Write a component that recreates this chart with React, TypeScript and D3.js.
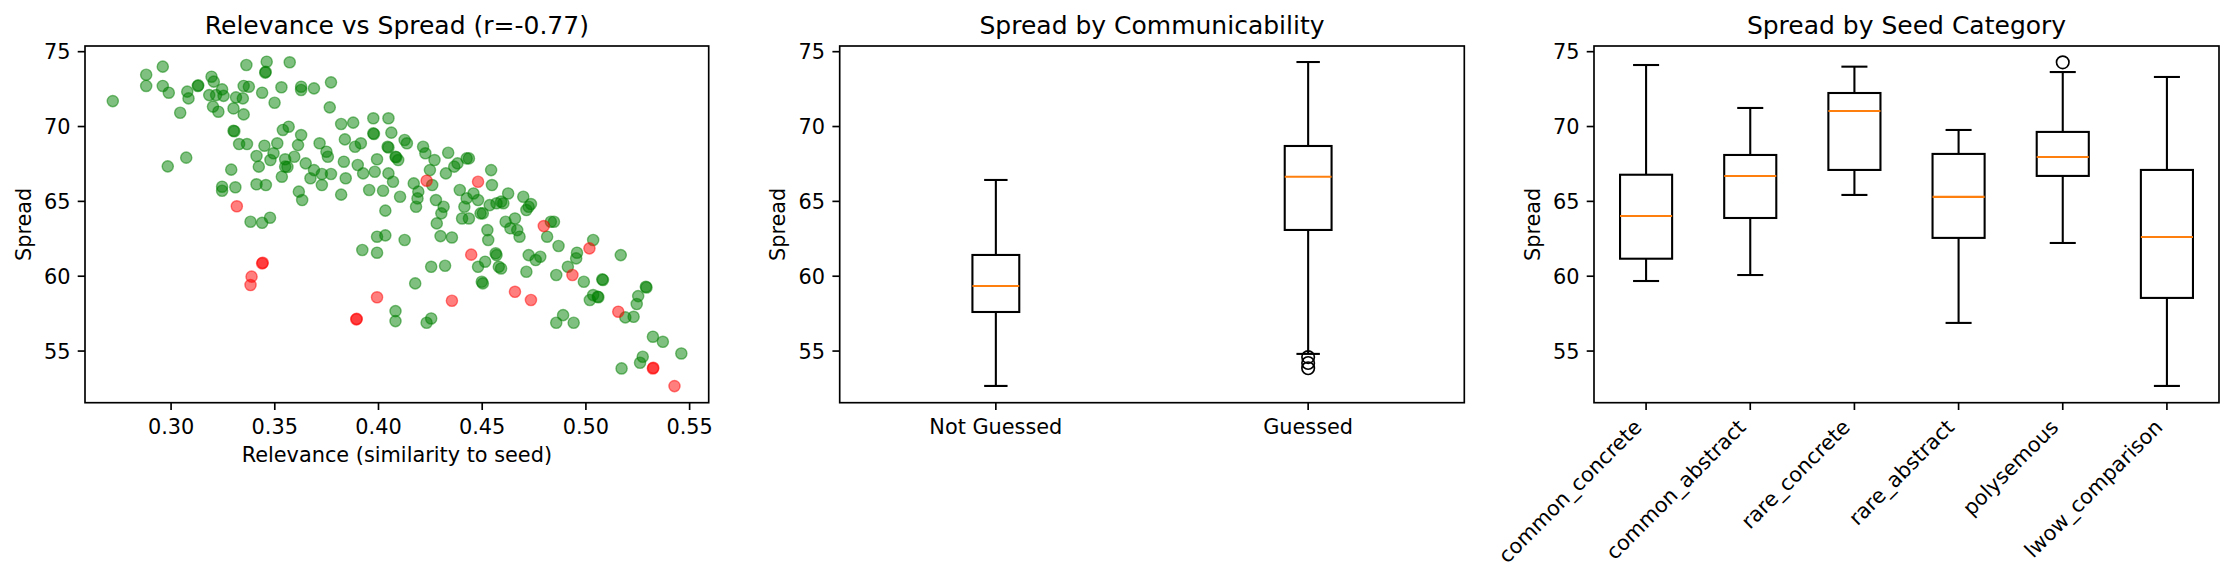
import React from 'react';
import * as d3 from 'd3';

// ---------- DATA ----------
const guessedPoints: [number, number][] = [
  [0.2719,71.70],[0.2880,73.46],[0.2880,72.71],[0.2960,74.00],[0.2960,72.71],[0.2989,72.26],[0.3044,70.92],[0.3078,72.33],[0.3084,71.88],[0.3129,72.71],[0.3131,72.75],[0.3184,72.10],[0.3195,73.33],[0.3206,73.00],[0.3202,71.33],[0.3228,70.99],[0.3217,72.10],[0.3246,72.48],[0.3253,72.05],[0.3301,71.21],[0.3313,71.95],[0.3346,71.88],[0.3350,70.81],[0.3350,72.71],[0.3375,72.66],[0.3363,74.11],[0.3439,72.26],[0.3454,73.60],[0.3456,73.65],[0.3461,74.33],[0.3572,74.29],[0.3499,71.59],[0.3532,72.62],[0.3627,72.44],[0.3627,72.66],[0.3689,72.55],[0.3771,72.95],[0.3765,71.28],[0.2984,67.34],[0.3073,67.92],
  [0.3301,69.72],[0.3305,69.68],[0.3328,68.83],[0.3366,68.83],[0.3412,68.03],[0.3423,67.32],[0.3450,68.72],[0.3290,67.12],[0.3246,65.98],[0.3246,65.71],[0.3310,65.94],[0.3383,63.64],[0.3439,63.57],[0.3477,63.91],[0.3412,66.14],[0.3457,66.09],[0.3479,67.76],[0.3494,68.21],[0.3512,68.88],[0.3534,66.65],[0.3539,69.77],[0.3567,69.99],[0.3550,67.81],[0.3550,67.32],[0.3561,67.30],[0.3594,67.98],[0.3612,68.76],[0.3627,69.43],[0.3616,65.65],[0.3632,65.09],[0.3649,67.54],[0.3672,66.54],[0.3689,67.09],[0.3716,68.88],[0.3727,66.09],[0.3749,68.32],[0.3756,67.98],[0.3727,66.83],[0.3771,66.83],[0.3820,65.45],[0.3820,70.17],[0.3833,67.65],[0.3838,69.14],[0.3842,66.54],[0.3878,70.26],[0.3887,68.65],[0.3900,67.43],[0.3915,68.88],[0.3926,66.87],[0.3955,65.76],[0.3975,70.55],[0.3975,69.54],[0.3978,69.50],[0.3982,66.98],[0.3993,67.81],[0.4022,65.71],[0.4033,64.38],[0.4048,70.55],[0.4048,66.87],[0.4044,68.65],[0.4048,68.60],[0.4062,69.59],[0.4070,66.31],[0.4082,67.98],[0.4085,67.95],[0.4095,67.76],[0.4104,65.31],[0.4126,69.10],[0.4137,68.88],[0.4126,62.42],[0.4170,66.20],[0.4181,64.64],[0.4188,65.20],[0.4192,65.65],[0.4215,68.65],[0.4226,68.21],[0.4248,67.09],[0.4259,66.09],[0.4270,67.76],[0.4277,65.09],[0.4281,63.53],[0.4299,62.68],[0.4303,64.20],[0.4314,64.64],[0.4325,66.87],[0.4336,68.25],[0.4354,62.59],[0.4365,67.32],[0.4381,67.54],[0.4392,65.76],[0.4403,63.86],[0.4414,64.64],[0.4425,67.87],[0.4436,67.87],[0.4458,65.53],[0.4480,60.63],[0.4492,64.20],[0.4498,59.63],[0.4503,59.52],[0.4514,60.97],[0.4525,63.08],[0.4529,62.42],[0.4536,64.75],[0.4543,67.09],[0.4547,66.09],[0.4565,61.53],[0.4569,61.41],[0.4580,60.63],[0.4591,60.52],[0.4602,64.87],[0.4613,63.64],[0.4625,65.53],[0.4636,63.20],[0.4658,63.86],[0.4669,63.08],[0.4680,62.64],[0.4698,65.31],[0.4713,60.30],[0.4713,64.42],[0.4724,64.64],[0.4735,64.82],[0.4724,61.41],[0.4758,61.08],[0.4780,61.30],[0.4813,62.64],[0.4831,63.64],[0.4846,63.64],[0.4857,60.08],[0.4868,62.02],[0.4913,60.63],[0.4953,61.19],[0.4957,61.57],[0.4990,59.63],[0.5035,62.42],[0.5079,59.79],[0.5082,59.75],[0.5168,61.41],[0.5289,59.30],[0.5292,59.25],
  [0.3922,61.75],[0.3993,62.64],[0.3993,61.57],[0.4033,62.73],[0.4254,60.63],[0.4321,60.70],[0.4425,65.20],[0.4480,65.09],[0.4436,63.86],[0.4503,64.20],[0.4591,64.98],[0.4569,64.87],[0.4177,59.52],
  [0.4082,57.67],[0.4082,57.00],[0.4232,56.89],[0.4254,57.18],[0.4857,56.89],[0.4890,57.40],[0.4941,56.89],[0.5019,58.41],[0.5035,58.74],[0.5057,58.63],[0.5060,58.60],[0.5190,57.25],[0.5230,57.29],[0.5245,58.14],[0.5252,58.67],[0.5323,55.96],[0.5371,55.62],[0.5274,54.62],[0.5261,54.22],[0.5460,54.84],[0.5172,53.84],
];

const notGuessedPoints: [number, number][] = [
  [0.3317,64.67],[0.3439,60.86],[0.3442,60.90],[0.3388,59.97],[0.3383,59.41],[0.4232,66.38],[0.4447,61.44],[0.4480,66.31],[0.4797,63.35],[0.4935,60.08],[0.5017,61.86],[0.3893,57.12],[0.3895,57.15],[0.3993,58.59],[0.4354,58.36],[0.4658,58.96],[0.4735,58.41],[0.5156,57.63],[0.5323,53.84],[0.5325,53.88],[0.5427,52.66],
];

const relevanceTicks = [0.30, 0.35, 0.40, 0.45, 0.50, 0.55];
const spreadTicks = [55, 60, 65, 70, 75];

const commCategories = ['Not Guessed', 'Guessed'];
const commWhiskerLow = [52.67, 54.81];
const commQ1 = [57.61, 63.09];
const commMedian = [59.35, 66.65];
const commQ3 = [61.42, 68.70];
const commWhiskerHigh = [66.43, 74.31];
const commOutliers = [[], [54.6, 54.2, 53.85]];

const seedCategories = ['common_concrete', 'common_abstract', 'rare_concrete', 'rare_abstract', 'polysemous', 'lwow_comparison'];
const seedWhiskerLow = [59.68, 60.08, 65.43, 56.88, 62.22, 52.67];
const seedQ1 = [61.17, 63.89, 67.10, 62.56, 66.70, 58.55];
const seedMedian = [64.02, 66.70, 71.04, 65.30, 67.97, 62.62];
const seedQ3 = [66.78, 68.10, 72.24, 68.17, 69.64, 67.10];
const seedWhiskerHigh = [74.11, 71.24, 74.00, 69.77, 73.64, 73.31];
const seedOutliers = [[], [], [], [], [74.29], []];

// ---------- LAYOUT ----------
const W = 2234, H = 582;
const PT = 150 / 72;
const FONT = "'DejaVu Sans', sans-serif";
const FS = 10 * PT;
const TFS = 12 * PT;
const TOP = 46, BOTTOM = 402.7;
const TICK = 3.5 * PT;
const PAD = 3.5 * PT;
const SPINE = 0.8 * PT;
const LW = 1.0 * PT;
const panels = [
  { l: 85, r: 708.7 },
  { l: 839.7, r: 1464.3 },
  { l: 1594, r: 2219 },
];

function YAxis({ y, x0 }: any) {
  return (
    <g>
      {spreadTicks.map((t) => (
        <g key={t}>
          <line x1={x0 - TICK} x2={x0} y1={y(t)} y2={y(t)} stroke="#000" strokeWidth={SPINE} />
          <text x={x0 - TICK - PAD} y={y(t)} dy="0.36em" textAnchor="end" fontSize={FS} fontFamily={FONT}>{t}</text>
        </g>
      ))}
      <text transform={`translate(${x0 - 54.3},${(TOP + BOTTOM) / 2}) rotate(-90)`} textAnchor="middle" fontSize={FS} fontFamily={FONT}>Spread</text>
    </g>
  );
}

function Frame({ p }: any) {
  return <rect x={p.l} y={TOP} width={p.r - p.l} height={BOTTOM - TOP} fill="none" stroke="#000" strokeWidth={SPINE} />;
}

function Title({ p, text }: any) {
  return <text x={(p.l + p.r) / 2} y={33.5} textAnchor="middle" fontSize={TFS} fontFamily={FONT}>{text}</text>;
}

function Boxes({ x, y, low, q1, med, q3, high, outliers, width }: any) {
  return (
    <g>
      {low.map((_: number, i: number) => {
        const cx = x(i + 1);
        const hw = (x(i + 1 + width / 2) - x(i + 1));
        const cw = hw / 2;
        return (
          <g key={i}>
            <line x1={cx} x2={cx} y1={y(q1[i])} y2={y(low[i])} stroke="#000" strokeWidth={LW} />
            <line x1={cx} x2={cx} y1={y(q3[i])} y2={y(high[i])} stroke="#000" strokeWidth={LW} />
            <line x1={cx - cw} x2={cx + cw} y1={y(low[i])} y2={y(low[i])} stroke="#000" strokeWidth={LW} />
            <line x1={cx - cw} x2={cx + cw} y1={y(high[i])} y2={y(high[i])} stroke="#000" strokeWidth={LW} />
            <rect x={cx - hw} y={y(q3[i])} width={2 * hw} height={y(q1[i]) - y(q3[i])} fill="none" stroke="#000" strokeWidth={LW} />
            <line x1={cx - hw} x2={cx + hw} y1={y(med[i])} y2={y(med[i])} stroke="#ff7f0e" strokeWidth={LW} />
            {outliers[i].map((o: number, j: number) => (
              <circle key={j} cx={cx} cy={y(o)} r={3 * PT} fill="none" stroke="#000" strokeWidth={LW * 0.8} />
            ))}
          </g>
        );
      })}
    </g>
  );
}

export default function App() {
  const y = d3.scaleLinear().domain([51.55, 75.38]).range([BOTTOM, TOP]);
  const p1 = panels[0], p2 = panels[1], p3 = panels[2];
  const x1 = d3.scaleLinear().domain([0.2585, 0.5592]).range([p1.l, p1.r]);
  const x2 = d3.scaleLinear().domain([0.5, commCategories.length + 0.5]).range([p2.l, p2.r]);
  const x3 = d3.scaleLinear().domain([0.5, seedCategories.length + 0.5]).range([p3.l, p3.r]);
  const tickLabelY = BOTTOM + TICK + PAD;

  return (
    <svg width={W} height={H} style={{ position: 'absolute', left: 0, top: 0, background: '#fff' }}>
      <rect x={0} y={0} width={W} height={H} fill="#fff" />
      {/* Panel 1 */}
      <g>
        {guessedPoints.map((d, i) => (
          <circle key={'g' + i} cx={x1(d[0])} cy={y(d[1])} r={5.6} fill="green" fillOpacity={0.5} stroke="green" strokeOpacity={0.5} strokeWidth={1.4} />
        ))}
        {notGuessedPoints.map((d, i) => (
          <circle key={'r' + i} cx={x1(d[0])} cy={y(d[1])} r={5.6} fill="red" fillOpacity={0.5} stroke="red" strokeOpacity={0.5} strokeWidth={1.4} />
        ))}
        <Frame p={p1} />
        <YAxis y={y} x0={p1.l} />
        {relevanceTicks.map((t) => (
          <g key={t}>
            <line x1={x1(t)} x2={x1(t)} y1={BOTTOM} y2={BOTTOM + TICK} stroke="#000" strokeWidth={SPINE} />
            <text x={x1(t)} y={434} textAnchor="middle" fontSize={FS} fontFamily={FONT}>{d3.format('.2f')(t)}</text>
          </g>
        ))}
        <text x={(p1.l + p1.r) / 2} y={461.5} textAnchor="middle" fontSize={FS} fontFamily={FONT}>Relevance (similarity to seed)</text>
        <Title p={p1} text="Relevance vs Spread (r=-0.77)" />
      </g>
      {/* Panel 2 */}
      <g>
        <Boxes x={x2} y={y} low={commWhiskerLow} q1={commQ1} med={commMedian} q3={commQ3} high={commWhiskerHigh} outliers={commOutliers} width={0.15} />
        <Frame p={p2} />
        <YAxis y={y} x0={p2.l} />
        {commCategories.map((c, i) => (
          <g key={c}>
            <line x1={x2(i + 1)} x2={x2(i + 1)} y1={BOTTOM} y2={BOTTOM + TICK} stroke="#000" strokeWidth={SPINE} />
            <text x={x2(i + 1)} y={434} textAnchor="middle" fontSize={FS} fontFamily={FONT}>{c}</text>
          </g>
        ))}
        <Title p={p2} text="Spread by Communicability" />
      </g>
      {/* Panel 3 */}
      <g>
        <Boxes x={x3} y={y} low={seedWhiskerLow} q1={seedQ1} med={seedMedian} q3={seedQ3} high={seedWhiskerHigh} outliers={seedOutliers} width={0.5} />
        <Frame p={p3} />
        <YAxis y={y} x0={p3.l} />
        {seedCategories.map((c, i) => (
          <g key={c}>
            <line x1={x3(i + 1)} x2={x3(i + 1)} y1={BOTTOM} y2={BOTTOM + TICK} stroke="#000" strokeWidth={SPINE} />
            <text transform={`translate(${x3(i + 1) - 3.1},${tickLabelY + 11.2}) rotate(-45)`} textAnchor="end" fontSize={FS} fontFamily={FONT}>{c}</text>
          </g>
        ))}
        <Title p={p3} text="Spread by Seed Category" />
      </g>
    </svg>
  );
}
